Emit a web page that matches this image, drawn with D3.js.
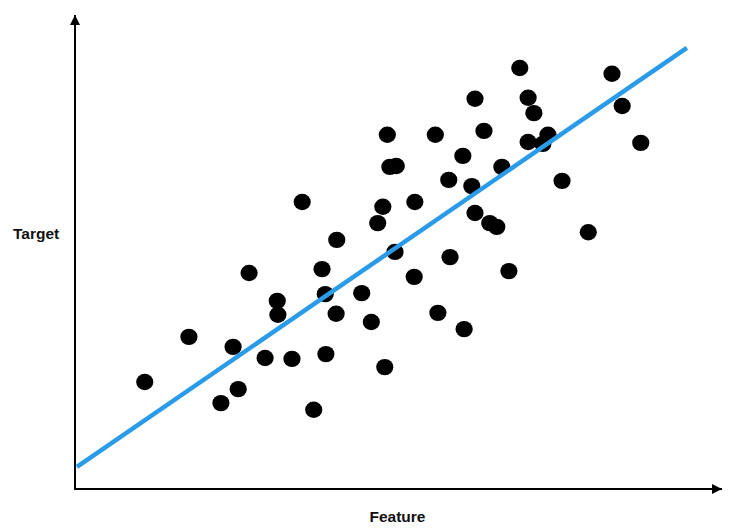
<!DOCTYPE html>
<html>
<head>
<meta charset="utf-8">
<script src="https://cdn.jsdelivr.net/npm/d3@7"></script>
<style>
  html, body { margin: 0; padding: 0; background: #fff; }
  svg { display: block; }
</style>
</head>
<body>
<svg id="chart" width="733" height="532"></svg>
<script>
// Data (arbitrary units)
const featureValues = [10.9, 17.8, 22.8, 25.5, 24.7, 27.2, 29.7, 31.6, 31.7, 33.9,
  35.5, 37.3, 38.6, 39.1, 39.2, 40.8, 40.9, 44.8, 46.3, 47.3,
  48.1, 48.4, 48.8, 49.2, 50.2, 50.0, 53.0, 53.1, 56.3, 56.7,
  58.4, 58.6, 60.8, 60.6, 62.0, 62.5, 62.5, 63.9, 64.8, 65.9,
  66.7, 67.8, 69.5, 70.8, 70.8, 71.7, 73.1, 73.9, 76.1, 80.2,
  83.9, 85.5, 88.4];
const targetValues = [22.3, 31.7, 17.9, 20.8, 29.6, 45.0, 27.3, 39.2, 36.3, 27.1,
  59.8, 16.5, 45.8, 40.6, 28.1, 36.5, 51.9, 40.8, 34.8, 55.4,
  58.8, 25.4, 73.8, 67.1, 67.3, 49.4, 44.2, 59.8, 73.8, 36.7,
  64.4, 48.3, 33.3, 69.4, 63.1, 81.3, 57.5, 74.6, 55.4, 54.6,
  67.1, 45.4, 87.7, 81.5, 72.3, 78.3, 71.9, 73.8, 64.2, 53.5,
  86.5, 79.8, 72.1];
const fitLineX = [0.3, 95.6];
const fitLineY = [4.6, 91.9];
const xLabel = "Feature";
const yLabel = "Target";

const svg = d3.select("#chart");
const x = d3.scaleLinear().domain([0, 100]).range([75, 715]);
const y = d3.scaleLinear().domain([0, 100]).range([489, 9]);

// arrow markers
const defs = svg.append("defs");
defs.append("marker")
  .attr("id", "arrow")
  .attr("viewBox", "0 0 10 10")
  .attr("refX", 10).attr("refY", 5)
  .attr("markerWidth", 10).attr("markerHeight", 10)
  .attr("markerUnits", "userSpaceOnUse")
  .attr("orient", "auto")
  .append("path")
  .attr("d", "M0,0 L10,5 L0,10 Z")
  .attr("fill", "#000");

// axes
svg.append("line")
  .attr("x1", x(0)).attr("y1", y(0))
  .attr("x2", 722).attr("y2", y(0))
  .attr("stroke", "#000").attr("stroke-width", 2)
  .attr("marker-end", "url(#arrow)");
svg.append("line")
  .attr("x1", x(0)).attr("y1", y(0) + 1)
  .attr("x2", x(0)).attr("y2", 15)
  .attr("stroke", "#000").attr("stroke-width", 2)
  .attr("marker-end", "url(#arrow)");

// points
const pts = featureValues.map((f, i) => ({ f, t: targetValues[i] }));
svg.append("g").selectAll("ellipse")
  .data(pts)
  .join("ellipse")
  .attr("cx", d => x(d.f))
  .attr("cy", d => y(d.t))
  .attr("rx", 8.6)
  .attr("ry", 8.2)
  .attr("fill", "#000");

// regression line
const lineData = fitLineX.map((v, i) => [v, fitLineY[i]]);
svg.append("path")
  .datum(lineData)
  .attr("d", d3.line().x(d => x(d[0])).y(d => y(d[1])))
  .attr("stroke", "#2a9be8")
  .attr("stroke-width", 4.5)
  .attr("fill", "none");

// labels
svg.append("text")
  .attr("x", 13).attr("y", 239)
  .attr("font-family", "Liberation Sans, Arial, sans-serif")
  .attr("font-weight", "bold")
  .attr("font-size", 15.5)
  .attr("fill", "#111")
  .text(yLabel);
svg.append("text")
  .attr("x", 397.5).attr("y", 522)
  .attr("text-anchor", "middle")
  .attr("font-family", "Liberation Sans, Arial, sans-serif")
  .attr("font-weight", "bold")
  .attr("font-size", 15.5)
  .attr("fill", "#111")
  .text(xLabel);
</script>
</body>
</html>
